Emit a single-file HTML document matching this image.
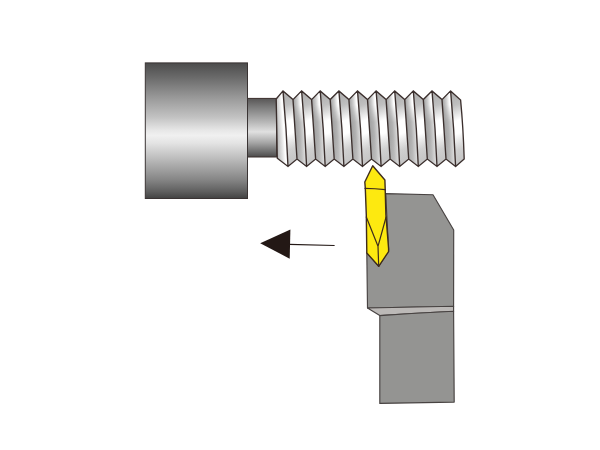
<!DOCTYPE html>
<html>
<head>
<meta charset="utf-8">
<title>Thread turning</title>
<style>
html,body{margin:0;padding:0;background:#fff;}
body{width:600px;height:450px;overflow:hidden;font-family:"Liberation Sans",sans-serif;}
svg{display:block;}
</style>
</head>
<body>
<svg width="600" height="450" viewBox="0 0 600 450">
<defs>
<linearGradient id="gHead" x1="0" y1="0" x2="0" y2="1">
<stop offset="0" stop-color="#4c4c4c"/>
<stop offset="0.1" stop-color="#686868"/>
<stop offset="0.25" stop-color="#979797"/>
<stop offset="0.4" stop-color="#c2c2c2"/>
<stop offset="0.5" stop-color="#e8e8e8"/>
<stop offset="0.535" stop-color="#f0f0f0"/>
<stop offset="0.59" stop-color="#e4e4e4"/>
<stop offset="0.7" stop-color="#bebebe"/>
<stop offset="0.86" stop-color="#868686"/>
<stop offset="0.95" stop-color="#5e5e5e"/>
<stop offset="1" stop-color="#424242"/>
</linearGradient>
<linearGradient id="gNeck" x1="0" y1="0" x2="0" y2="1">
<stop offset="0" stop-color="#585656"/>
<stop offset="0.15" stop-color="#7c7c7c"/>
<stop offset="0.4" stop-color="#b6b6b6"/>
<stop offset="0.57" stop-color="#e0e0e0"/>
<stop offset="0.75" stop-color="#a8a8a8"/>
<stop offset="0.9" stop-color="#707070"/>
<stop offset="1" stop-color="#4c4a4a"/>
</linearGradient>
<linearGradient id="gA" x1="0" y1="0" x2="1" y2="0">
<stop offset="0" stop-color="#a9a9a9"/>
<stop offset="0.55" stop-color="#f4f4f4"/>
<stop offset="1" stop-color="#ffffff"/>
</linearGradient>
<linearGradient id="gB" x1="0" y1="0" x2="1" y2="0">
<stop offset="0" stop-color="#a2a2a2"/>
<stop offset="0.6" stop-color="#e6e6e6"/>
<stop offset="1" stop-color="#f6f6f6"/>
</linearGradient>
<linearGradient id="gV" gradientUnits="userSpaceOnUse" x1="0" y1="89" x2="0" y2="168">
<stop offset="0" stop-color="#ffffff" stop-opacity="0"/>
<stop offset="0.6" stop-color="#ffffff" stop-opacity="0"/>
<stop offset="0.8" stop-color="#ffffff" stop-opacity="0.1"/>
<stop offset="1" stop-color="#ffffff" stop-opacity="0.2"/>
</linearGradient>
<linearGradient id="gM" gradientUnits="userSpaceOnUse" x1="0" y1="89" x2="0" y2="168">
<stop offset="0" stop-color="#ffffff"/>
<stop offset="0.2" stop-color="#ffffff"/>
<stop offset="0.42" stop-color="#000000"/>
<stop offset="1" stop-color="#000000"/>
</linearGradient>
<mask id="mTop" maskUnits="userSpaceOnUse" x="270" y="85" width="200" height="90"><rect x="270" y="85" width="200" height="90" fill="url(#gM)"/></mask>
<linearGradient id="gF" gradientUnits="userSpaceOnUse" x1="276.01" y1="127.81" x2="285.49" y2="127.15"><stop offset="0" stop-color="#b4b4b4"/><stop offset="0.45" stop-color="#dcdcdc"/><stop offset="0.8" stop-color="#ffffff"/><stop offset="1" stop-color="#f4f4f4"/></linearGradient>
<linearGradient id="gB0" gradientUnits="userSpaceOnUse" x1="276.80" y1="91.39" x2="303.40" y2="162.61"><stop offset="0" stop-color="#a6a6a6"/><stop offset="0.22" stop-color="#c0c0c0"/><stop offset="0.42" stop-color="#ffffff"/><stop offset="0.58" stop-color="#ffffff"/><stop offset="0.78" stop-color="#cccccc"/><stop offset="1" stop-color="#b4b4b4"/></linearGradient>
<linearGradient id="gAL0" gradientUnits="userSpaceOnUse" x1="294.81" y1="127.79" x2="303.99" y2="127.21"><stop offset="0" stop-color="#9e9e9e"/><stop offset="0.5" stop-color="#b2b2b2"/><stop offset="1" stop-color="#dcdcdc"/></linearGradient>
<linearGradient id="gAH0" gradientUnits="userSpaceOnUse" x1="294.81" y1="127.79" x2="303.99" y2="127.21"><stop offset="0" stop-color="#9e9e9e"/><stop offset="0.45" stop-color="#cfcfcf"/><stop offset="0.8" stop-color="#ffffff"/><stop offset="1" stop-color="#ffffff"/></linearGradient>
<linearGradient id="gB1" gradientUnits="userSpaceOnUse" x1="295.42" y1="91.39" x2="322.02" y2="162.61"><stop offset="0" stop-color="#a6a6a6"/><stop offset="0.22" stop-color="#c0c0c0"/><stop offset="0.42" stop-color="#ffffff"/><stop offset="0.58" stop-color="#ffffff"/><stop offset="0.78" stop-color="#cccccc"/><stop offset="1" stop-color="#b4b4b4"/></linearGradient>
<linearGradient id="gAL1" gradientUnits="userSpaceOnUse" x1="313.43" y1="127.79" x2="322.61" y2="127.21"><stop offset="0" stop-color="#9e9e9e"/><stop offset="0.5" stop-color="#b2b2b2"/><stop offset="1" stop-color="#dcdcdc"/></linearGradient>
<linearGradient id="gAH1" gradientUnits="userSpaceOnUse" x1="313.43" y1="127.79" x2="322.61" y2="127.21"><stop offset="0" stop-color="#9e9e9e"/><stop offset="0.45" stop-color="#cfcfcf"/><stop offset="0.8" stop-color="#ffffff"/><stop offset="1" stop-color="#ffffff"/></linearGradient>
<linearGradient id="gB2" gradientUnits="userSpaceOnUse" x1="314.04" y1="91.39" x2="340.64" y2="162.61"><stop offset="0" stop-color="#a6a6a6"/><stop offset="0.22" stop-color="#c0c0c0"/><stop offset="0.42" stop-color="#ffffff"/><stop offset="0.58" stop-color="#ffffff"/><stop offset="0.78" stop-color="#cccccc"/><stop offset="1" stop-color="#b4b4b4"/></linearGradient>
<linearGradient id="gAL2" gradientUnits="userSpaceOnUse" x1="332.05" y1="127.79" x2="341.23" y2="127.21"><stop offset="0" stop-color="#9e9e9e"/><stop offset="0.5" stop-color="#b2b2b2"/><stop offset="1" stop-color="#dcdcdc"/></linearGradient>
<linearGradient id="gAH2" gradientUnits="userSpaceOnUse" x1="332.05" y1="127.79" x2="341.23" y2="127.21"><stop offset="0" stop-color="#9e9e9e"/><stop offset="0.45" stop-color="#cfcfcf"/><stop offset="0.8" stop-color="#ffffff"/><stop offset="1" stop-color="#ffffff"/></linearGradient>
<linearGradient id="gB3" gradientUnits="userSpaceOnUse" x1="332.66" y1="91.39" x2="359.26" y2="162.61"><stop offset="0" stop-color="#a6a6a6"/><stop offset="0.22" stop-color="#c0c0c0"/><stop offset="0.42" stop-color="#ffffff"/><stop offset="0.58" stop-color="#ffffff"/><stop offset="0.78" stop-color="#cccccc"/><stop offset="1" stop-color="#b4b4b4"/></linearGradient>
<linearGradient id="gAL3" gradientUnits="userSpaceOnUse" x1="350.67" y1="127.79" x2="359.85" y2="127.21"><stop offset="0" stop-color="#9e9e9e"/><stop offset="0.5" stop-color="#b2b2b2"/><stop offset="1" stop-color="#dcdcdc"/></linearGradient>
<linearGradient id="gAH3" gradientUnits="userSpaceOnUse" x1="350.67" y1="127.79" x2="359.85" y2="127.21"><stop offset="0" stop-color="#9e9e9e"/><stop offset="0.45" stop-color="#cfcfcf"/><stop offset="0.8" stop-color="#ffffff"/><stop offset="1" stop-color="#ffffff"/></linearGradient>
<linearGradient id="gB4" gradientUnits="userSpaceOnUse" x1="351.28" y1="91.39" x2="377.88" y2="162.61"><stop offset="0" stop-color="#a6a6a6"/><stop offset="0.22" stop-color="#c0c0c0"/><stop offset="0.42" stop-color="#ffffff"/><stop offset="0.58" stop-color="#ffffff"/><stop offset="0.78" stop-color="#cccccc"/><stop offset="1" stop-color="#b4b4b4"/></linearGradient>
<linearGradient id="gAL4" gradientUnits="userSpaceOnUse" x1="369.29" y1="127.79" x2="378.47" y2="127.21"><stop offset="0" stop-color="#9e9e9e"/><stop offset="0.5" stop-color="#b2b2b2"/><stop offset="1" stop-color="#dcdcdc"/></linearGradient>
<linearGradient id="gAH4" gradientUnits="userSpaceOnUse" x1="369.29" y1="127.79" x2="378.47" y2="127.21"><stop offset="0" stop-color="#9e9e9e"/><stop offset="0.45" stop-color="#cfcfcf"/><stop offset="0.8" stop-color="#ffffff"/><stop offset="1" stop-color="#ffffff"/></linearGradient>
<linearGradient id="gB5" gradientUnits="userSpaceOnUse" x1="369.90" y1="91.39" x2="396.50" y2="162.61"><stop offset="0" stop-color="#a6a6a6"/><stop offset="0.22" stop-color="#c0c0c0"/><stop offset="0.42" stop-color="#ffffff"/><stop offset="0.58" stop-color="#ffffff"/><stop offset="0.78" stop-color="#cccccc"/><stop offset="1" stop-color="#b4b4b4"/></linearGradient>
<linearGradient id="gAL5" gradientUnits="userSpaceOnUse" x1="387.91" y1="127.79" x2="397.09" y2="127.21"><stop offset="0" stop-color="#9e9e9e"/><stop offset="0.5" stop-color="#b2b2b2"/><stop offset="1" stop-color="#dcdcdc"/></linearGradient>
<linearGradient id="gAH5" gradientUnits="userSpaceOnUse" x1="387.91" y1="127.79" x2="397.09" y2="127.21"><stop offset="0" stop-color="#9e9e9e"/><stop offset="0.45" stop-color="#cfcfcf"/><stop offset="0.8" stop-color="#ffffff"/><stop offset="1" stop-color="#ffffff"/></linearGradient>
<linearGradient id="gB6" gradientUnits="userSpaceOnUse" x1="388.52" y1="91.39" x2="415.12" y2="162.61"><stop offset="0" stop-color="#a6a6a6"/><stop offset="0.22" stop-color="#c0c0c0"/><stop offset="0.42" stop-color="#ffffff"/><stop offset="0.58" stop-color="#ffffff"/><stop offset="0.78" stop-color="#cccccc"/><stop offset="1" stop-color="#b4b4b4"/></linearGradient>
<linearGradient id="gAL6" gradientUnits="userSpaceOnUse" x1="406.53" y1="127.79" x2="415.71" y2="127.21"><stop offset="0" stop-color="#9e9e9e"/><stop offset="0.5" stop-color="#b2b2b2"/><stop offset="1" stop-color="#dcdcdc"/></linearGradient>
<linearGradient id="gAH6" gradientUnits="userSpaceOnUse" x1="406.53" y1="127.79" x2="415.71" y2="127.21"><stop offset="0" stop-color="#9e9e9e"/><stop offset="0.45" stop-color="#cfcfcf"/><stop offset="0.8" stop-color="#ffffff"/><stop offset="1" stop-color="#ffffff"/></linearGradient>
<linearGradient id="gB7" gradientUnits="userSpaceOnUse" x1="407.14" y1="91.39" x2="433.74" y2="162.61"><stop offset="0" stop-color="#a6a6a6"/><stop offset="0.22" stop-color="#c0c0c0"/><stop offset="0.42" stop-color="#ffffff"/><stop offset="0.58" stop-color="#ffffff"/><stop offset="0.78" stop-color="#cccccc"/><stop offset="1" stop-color="#b4b4b4"/></linearGradient>
<linearGradient id="gAL7" gradientUnits="userSpaceOnUse" x1="425.15" y1="127.79" x2="434.33" y2="127.21"><stop offset="0" stop-color="#9e9e9e"/><stop offset="0.5" stop-color="#b2b2b2"/><stop offset="1" stop-color="#dcdcdc"/></linearGradient>
<linearGradient id="gAH7" gradientUnits="userSpaceOnUse" x1="425.15" y1="127.79" x2="434.33" y2="127.21"><stop offset="0" stop-color="#9e9e9e"/><stop offset="0.45" stop-color="#cfcfcf"/><stop offset="0.8" stop-color="#ffffff"/><stop offset="1" stop-color="#ffffff"/></linearGradient>
<linearGradient id="gB8" gradientUnits="userSpaceOnUse" x1="425.76" y1="91.39" x2="452.36" y2="162.61"><stop offset="0" stop-color="#a6a6a6"/><stop offset="0.22" stop-color="#c0c0c0"/><stop offset="0.42" stop-color="#ffffff"/><stop offset="0.58" stop-color="#ffffff"/><stop offset="0.78" stop-color="#cccccc"/><stop offset="1" stop-color="#b4b4b4"/></linearGradient>
<linearGradient id="gAL8" gradientUnits="userSpaceOnUse" x1="443.77" y1="127.79" x2="452.95" y2="127.21"><stop offset="0" stop-color="#9e9e9e"/><stop offset="0.5" stop-color="#b2b2b2"/><stop offset="1" stop-color="#dcdcdc"/></linearGradient>
<linearGradient id="gAH8" gradientUnits="userSpaceOnUse" x1="443.77" y1="127.79" x2="452.95" y2="127.21"><stop offset="0" stop-color="#9e9e9e"/><stop offset="0.45" stop-color="#cfcfcf"/><stop offset="0.8" stop-color="#ffffff"/><stop offset="1" stop-color="#ffffff"/></linearGradient>
<linearGradient id="gB9" gradientUnits="userSpaceOnUse" x1="444.38" y1="91.39" x2="470.98" y2="162.61"><stop offset="0" stop-color="#a6a6a6"/><stop offset="0.22" stop-color="#c0c0c0"/><stop offset="0.42" stop-color="#ffffff"/><stop offset="0.58" stop-color="#ffffff"/><stop offset="0.78" stop-color="#cccccc"/><stop offset="1" stop-color="#b4b4b4"/></linearGradient>
<clipPath id="thclip"><path d="M276.2,99.0 L283.0,90.9 L293.0,99.6 L301.6,90.9 L311.6,99.6 L320.2,90.9 L330.2,99.6 L338.9,90.9 L348.9,99.6 L357.5,90.9 L367.5,99.6 L376.1,90.9 L386.1,99.6 L394.7,90.9 L404.7,99.6 L413.3,90.9 L423.3,99.6 L432.0,90.9 L442.0,99.6 L450.6,90.9 L460.6,100.0 Q463.2,127.0 464.2,159.0 L455.6,166.5 L446.0,159.0 L437.0,166.5 L427.3,159.0 L418.3,166.5 L408.7,159.0 L399.7,166.5 L390.1,159.0 L381.1,166.5 L371.5,159.0 L362.5,166.5 L352.9,159.0 L343.9,166.5 L334.2,159.0 L325.2,166.5 L315.6,159.0 L306.6,166.5 L297.0,159.0 L288.0,166.5 L277.3,158.2 Z"/></clipPath>
</defs>
<rect width="600" height="450" fill="#ffffff"/>

<!-- bolt neck -->
<rect x="246" y="98.4" width="30.6" height="58.6" fill="url(#gNeck)" stroke="#3b2f2d" stroke-width="1"/>
<!-- bolt head -->
<rect x="145.3" y="62.9" width="102.2" height="135.6" fill="url(#gHead)" stroke="#3a3434" stroke-width="1"/>

<!-- thread -->
<path d="M276.2,99.0 L283.0,90.9 Q286.5,128.7 288.0,166.5 L277.3,158.2 Z" fill="url(#gF)"/>
<path d="M283.0,90.9 L293.0,99.6 L297.0,159.0 L288.0,166.5 Q286.5,128.7 283.0,90.9 Z" fill="url(#gB0)"/>
<path d="M293.0,99.6 L301.6,90.9 Q305.1,128.7 306.6,166.5 L297.0,159.0 Z" fill="url(#gAL0)"/>
<path d="M301.6,90.9 L311.6,99.6 L315.6,159.0 L306.6,166.5 Q305.1,128.7 301.6,90.9 Z" fill="url(#gB1)"/>
<path d="M311.6,99.6 L320.2,90.9 Q323.7,128.7 325.2,166.5 L315.6,159.0 Z" fill="url(#gAL1)"/>
<path d="M320.2,90.9 L330.2,99.6 L334.2,159.0 L325.2,166.5 Q323.7,128.7 320.2,90.9 Z" fill="url(#gB2)"/>
<path d="M330.2,99.6 L338.9,90.9 Q342.4,128.7 343.9,166.5 L334.2,159.0 Z" fill="url(#gAL2)"/>
<path d="M338.9,90.9 L348.9,99.6 L352.9,159.0 L343.9,166.5 Q342.4,128.7 338.9,90.9 Z" fill="url(#gB3)"/>
<path d="M348.9,99.6 L357.5,90.9 Q361.0,128.7 362.5,166.5 L352.9,159.0 Z" fill="url(#gAL3)"/>
<path d="M357.5,90.9 L367.5,99.6 L371.5,159.0 L362.5,166.5 Q361.0,128.7 357.5,90.9 Z" fill="url(#gB4)"/>
<path d="M367.5,99.6 L376.1,90.9 Q379.6,128.7 381.1,166.5 L371.5,159.0 Z" fill="url(#gAL4)"/>
<path d="M376.1,90.9 L386.1,99.6 L390.1,159.0 L381.1,166.5 Q379.6,128.7 376.1,90.9 Z" fill="url(#gB5)"/>
<path d="M386.1,99.6 L394.7,90.9 Q398.2,128.7 399.7,166.5 L390.1,159.0 Z" fill="url(#gAL5)"/>
<path d="M394.7,90.9 L404.7,99.6 L408.7,159.0 L399.7,166.5 Q398.2,128.7 394.7,90.9 Z" fill="url(#gB6)"/>
<path d="M404.7,99.6 L413.3,90.9 Q416.8,128.7 418.3,166.5 L408.7,159.0 Z" fill="url(#gAL6)"/>
<path d="M413.3,90.9 L423.3,99.6 L427.3,159.0 L418.3,166.5 Q416.8,128.7 413.3,90.9 Z" fill="url(#gB7)"/>
<path d="M423.3,99.6 L432.0,90.9 Q435.5,128.7 437.0,166.5 L427.3,159.0 Z" fill="url(#gAL7)"/>
<path d="M432.0,90.9 L442.0,99.6 L446.0,159.0 L437.0,166.5 Q435.5,128.7 432.0,90.9 Z" fill="url(#gB8)"/>
<path d="M442.0,99.6 L450.6,90.9 Q454.1,128.7 455.6,166.5 L446.0,159.0 Z" fill="url(#gAL8)"/>
<path d="M450.6,90.9 L460.6,100.0 Q463.2,127.0 464.2,159.0 L455.6,166.5 Z" fill="url(#gB9)"/>
<g mask="url(#mTop)">
<path d="M293.0,99.6 L301.6,90.9 Q305.1,128.7 306.6,166.5 L297.0,159.0 Z" fill="url(#gAH0)"/>
<path d="M311.6,99.6 L320.2,90.9 Q323.7,128.7 325.2,166.5 L315.6,159.0 Z" fill="url(#gAH1)"/>
<path d="M330.2,99.6 L338.9,90.9 Q342.4,128.7 343.9,166.5 L334.2,159.0 Z" fill="url(#gAH2)"/>
<path d="M348.9,99.6 L357.5,90.9 Q361.0,128.7 362.5,166.5 L352.9,159.0 Z" fill="url(#gAH3)"/>
<path d="M367.5,99.6 L376.1,90.9 Q379.6,128.7 381.1,166.5 L371.5,159.0 Z" fill="url(#gAH4)"/>
<path d="M386.1,99.6 L394.7,90.9 Q398.2,128.7 399.7,166.5 L390.1,159.0 Z" fill="url(#gAH5)"/>
<path d="M404.7,99.6 L413.3,90.9 Q416.8,128.7 418.3,166.5 L408.7,159.0 Z" fill="url(#gAH6)"/>
<path d="M423.3,99.6 L432.0,90.9 Q435.5,128.7 437.0,166.5 L427.3,159.0 Z" fill="url(#gAH7)"/>
<path d="M442.0,99.6 L450.6,90.9 Q454.1,128.7 455.6,166.5 L446.0,159.0 Z" fill="url(#gAH8)"/>
</g>
<rect x="276" y="89" width="192" height="79" fill="url(#gV)" clip-path="url(#thclip)"/>
<path d="M276.2,99.0 L283.0,90.9 L293.0,99.6 L301.6,90.9 L311.6,99.6 L320.2,90.9 L330.2,99.6 L338.9,90.9 L348.9,99.6 L357.5,90.9 L367.5,99.6 L376.1,90.9 L386.1,99.6 L394.7,90.9 L404.7,99.6 L413.3,90.9 L423.3,99.6 L432.0,90.9 L442.0,99.6 L450.6,90.9 M277.3,158.2 L288.0,166.5 L297.0,159.0 L306.6,166.5 L315.6,159.0 L325.2,166.5 L334.2,159.0 L343.9,166.5 L352.9,159.0 L362.5,166.5 L371.5,159.0 L381.1,166.5 L390.1,159.0 L399.7,166.5 L408.7,159.0 L418.3,166.5 L427.3,159.0 L437.0,166.5 L446.0,159.0 L455.6,166.5 M283.0,90.9 Q286.5,128.7 288.0,166.5 M293.0,99.6 L297.0,159.0 M301.6,90.9 Q305.1,128.7 306.6,166.5 M311.6,99.6 L315.6,159.0 M320.2,90.9 Q323.7,128.7 325.2,166.5 M330.2,99.6 L334.2,159.0 M338.9,90.9 Q342.4,128.7 343.9,166.5 M348.9,99.6 L352.9,159.0 M357.5,90.9 Q361.0,128.7 362.5,166.5 M367.5,99.6 L371.5,159.0 M376.1,90.9 Q379.6,128.7 381.1,166.5 M386.1,99.6 L390.1,159.0 M394.7,90.9 Q398.2,128.7 399.7,166.5 M404.7,99.6 L408.7,159.0 M413.3,90.9 Q416.8,128.7 418.3,166.5 M423.3,99.6 L427.3,159.0 M432.0,90.9 Q435.5,128.7 437.0,166.5 M442.0,99.6 L446.0,159.0 M450.6,90.9 Q454.1,128.7 455.6,166.5 M276.2,99.0 L277.3,158.2 M450.6,90.9 L460.6,100.0 Q463.2,127.0 464.2,159.0 L455.6,166.5" fill="none" stroke="#3b2f2d" stroke-width="1.35" stroke-linejoin="miter" stroke-linecap="round"/>

<!-- tool holder -->
<path d="M385.7,193.6 L433,194.8 L453.7,230 L453.6,306.3 L367.5,308 L366.8,252 L378.7,266.3 L388.6,250 Z" fill="#949492" stroke="#484342" stroke-width="1.15" stroke-linejoin="round"/>
<path d="M367.5,308 L453.6,306.3 L453.6,311.3 Q415,313.2 379.8,315.6 Z" fill="#bcb9b7" stroke="#484342" stroke-width="1.15" stroke-linejoin="round"/>
<path d="M379.8,315.6 Q415,313.2 453.6,311.3 L454.2,402.1 L379.8,403.4 Z" fill="#949492" stroke="#484342" stroke-width="1.15" stroke-linejoin="round"/>

<!-- insert -->
<path d="M372.7,165.8 L384.9,180 L385.2,189.6 L385.9,215 L388.6,248.5 L388.6,251.6 L378.7,266.3 L366.8,253 L366.3,215 L365.3,188.3 L364.8,182 Z" fill="#fde910" stroke="#3e2c1c" stroke-width="1.4" stroke-linejoin="round"/>
<path d="M365,188.3 Q375,188.4 385.2,189.6" fill="none" stroke="#3e2c1c" stroke-width="1.3" stroke-linecap="round"/>
<path d="M366.3,217 L378,246.3 L378.7,266.3 M386.1,217 L378,246.3" fill="none" stroke="#3e2c1c" stroke-width="1.2" stroke-linejoin="round" stroke-linecap="round"/>

<!-- arrow -->
<line x1="289" y1="244.3" x2="334.6" y2="245.5" stroke="#231815" stroke-width="1.25"/>
<polygon points="260.2,243.2 290.4,229.5 289.7,258.7" fill="#231815"/>
</svg>
</body>
</html>
